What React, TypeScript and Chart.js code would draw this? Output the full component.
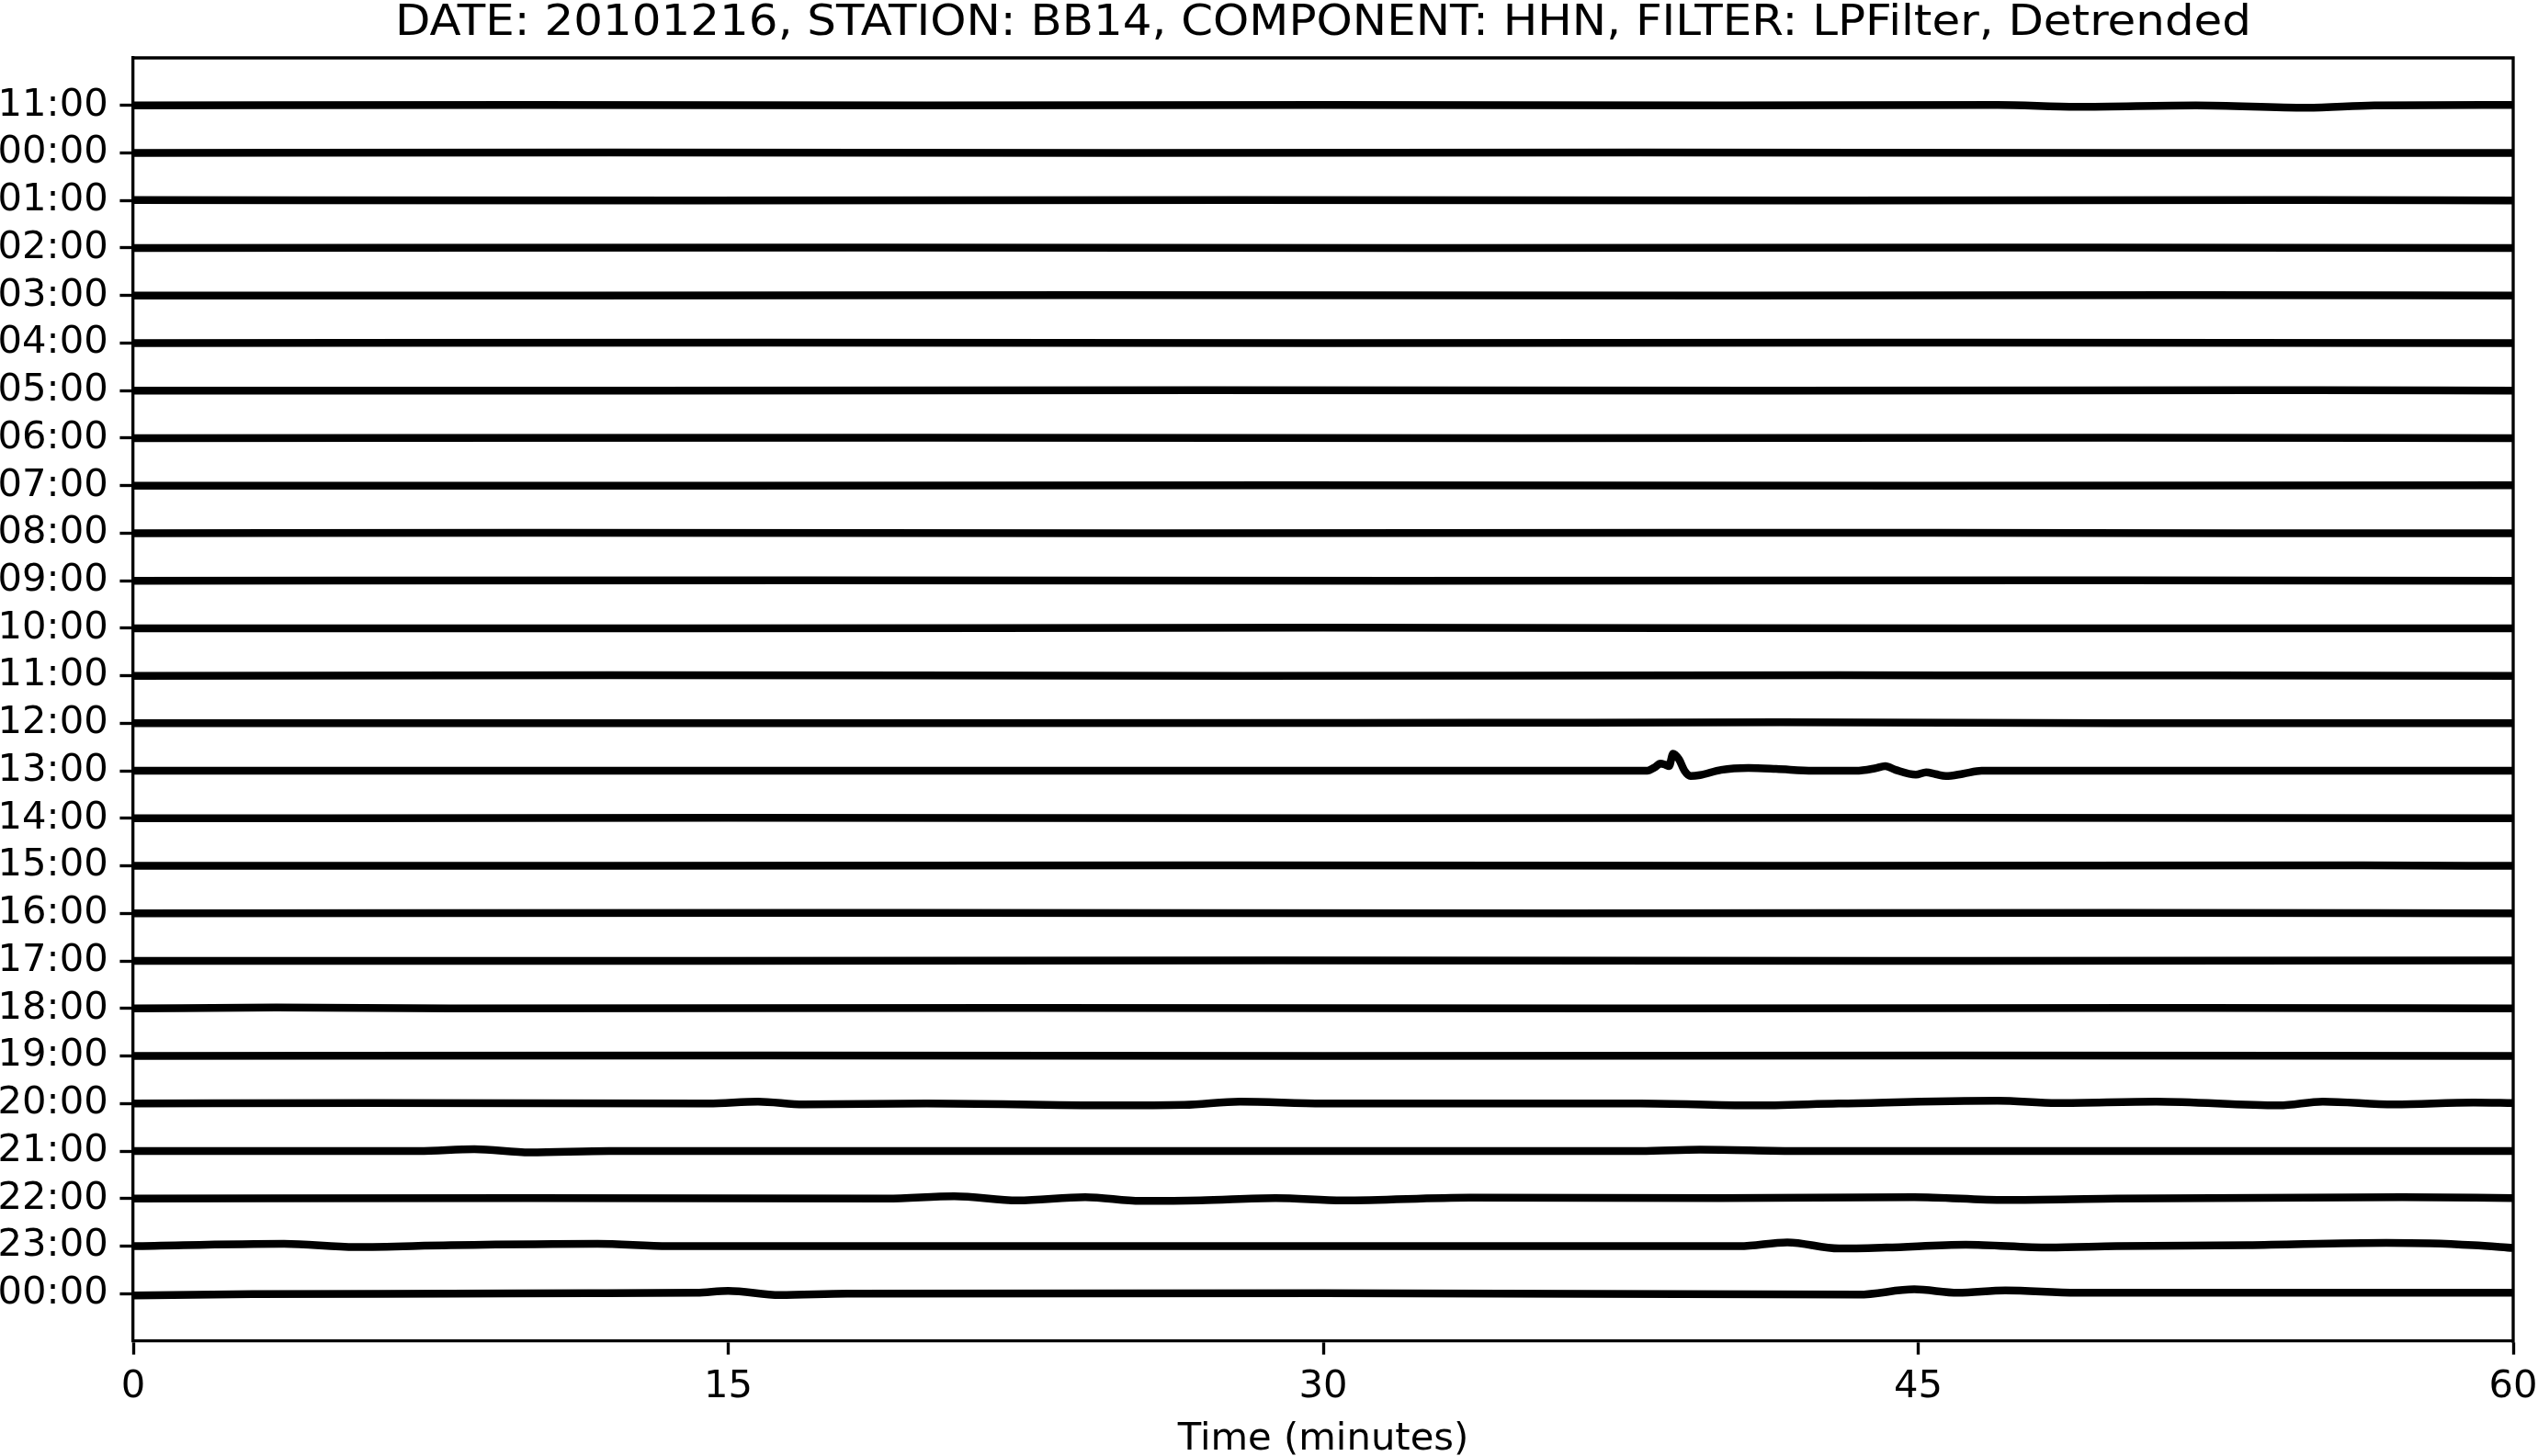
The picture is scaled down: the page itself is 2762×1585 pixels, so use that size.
import React, { useEffect, useRef } from "react";
import { Chart, registerables } from "chart.js";

Chart.register(...registerables);

const titleText =
  "DATE: 20101216, STATION: BB14, COMPONENT: HHN, FILTER: LPFilter, Detrended";
const xAxisLabel = "Time (minutes)";

// One label per helicorder row, top to bottom
const hourLabels = [
  "11:00", "00:00", "01:00", "02:00", "03:00", "04:00", "05:00", "06:00",
  "07:00", "08:00", "09:00", "10:00", "11:00", "12:00", "13:00", "14:00",
  "15:00", "16:00", "17:00", "18:00", "19:00", "20:00", "21:00", "22:00",
  "23:00", "00:00",
];

const xTickValues = [0, 15, 30, 45, 60];

// Each trace: [minute, amplitude] pairs; amplitude in row-spacing units (up = positive)
const trace00: number[][] = [[0, 0], [10, 0.01], [20, 0], [30, 0.01], [40, 0], [47, 0.01], [49, -0.03], [52, 0], [54.8, -0.05], [56.5, 0], [60, 0.01]];
const trace01: number[][] = [[0, 0], [12, 0.01], [25, 0], [38, 0.01], [50, 0], [60, 0]];
const trace02: number[][] = [[0, 0.01], [14, 0], [28, 0.01], [42, 0], [55, 0.01], [60, 0]];
const trace03: number[][] = [[0, 0], [18, 0.01], [33, 0], [47, 0.01], [60, 0]];
const trace04: number[][] = [[0, 0], [11, 0], [24, 0.01], [40, 0], [52, 0.01], [60, 0]];
const trace05: number[][] = [[0, 0], [16, 0.01], [30, 0], [44, 0.01], [60, 0]];
const trace06: number[][] = [[0, 0], [13, 0], [27, 0.01], [41, 0], [55, 0.01], [60, 0]];
const trace07: number[][] = [[0, 0], [20, 0.01], [35, 0], [50, 0.01], [60, 0]];
const trace08: number[][] = [[0, 0], [15, 0], [29, 0.01], [45, 0], [60, 0.01]];
const trace09: number[][] = [[0, 0], [10, 0.01], [26, 0], [39, 0.01], [53, 0], [60, 0]];
const trace10: number[][] = [[0, 0], [17, 0.01], [32, 0], [48, 0.01], [60, 0]];
const trace11: number[][] = [[0, 0], [14, 0], [30, 0.01], [46, 0], [60, 0]];
const trace12: number[][] = [[0, 0], [12, 0.01], [28, 0], [43, 0.01], [60, 0]];
const trace13: number[][] = [[0, 0], [18, 0], [34, 0.01], [41.5, 0.02], [50, 0], [60, 0]];
const trace14: number[][] = [
  [0, 0], [20, 0], [38.17, 0], [38.35, 0.07], [38.5, 0.15], [38.62, 0.13],
  [38.72, 0.1], [38.82, 0.36], [38.97, 0.24], [39.11, 0], [39.26, -0.11],
  [39.5, -0.09], [40.03, 0.02], [40.72, 0.06], [41.42, 0.04], [42.35, 0],
  [43.43, 0], [43.9, 0.05], [44.17, 0.1], [44.43, 0.02], [44.94, -0.08],
  [45.2, -0.03], [45.44, -0.07], [45.7, -0.11], [46.14, -0.06], [46.6, 0],
  [60, 0],
];
const trace15: number[][] = [[0, 0], [15, 0.01], [31, 0], [45, 0.01], [60, 0]];
const trace16: number[][] = [[0, 0], [12, 0], [27, 0.01], [42, 0], [56, 0.01], [60, 0]];
const trace17: number[][] = [[0, 0], [19, 0.01], [36, 0], [50, 0.01], [60, 0]];
const trace18: number[][] = [[0, 0], [14, 0], [29, 0.01], [44, 0], [60, 0.01]];
const trace19: number[][] = [[0, 0], [3.6, 0.02], [8, 0], [22, 0.01], [38, 0], [52, 0.01], [60, 0]];
const trace20: number[][] = [[0, 0], [16, 0.01], [30, 0], [46, 0.01], [60, 0]];
const trace21: number[][] = [
  [0, 0], [6, 0.01], [14.5, 0], [15.75, 0.04], [16.9, -0.02], [20, 0],
  [24.6, -0.04], [26.5, -0.03], [27.9, 0.04], [30, 0], [38, 0], [40.8, -0.04],
  [43, 0], [47, 0.06], [48.5, 0.01], [51, 0.04], [54.1, -0.04], [55.2, 0.04],
  [57, -0.02], [59, 0.02], [60, 0.01],
];
const trace22: number[][] = [[0, 0], [7.2, 0], [8.6, 0.04], [10, -0.03], [12, 0], [30, 0], [38, 0], [39.5, 0.03], [42, 0], [60, 0]];
const trace23: number[][] = [
  [0, 0], [10, 0.01], [19, 0], [20.7, 0.05], [22.3, -0.04], [24, 0.03],
  [25.4, -0.05], [26.9, -0.04], [28.8, 0.01], [30.5, -0.04], [33.7, 0.02],
  [40, 0.01], [44.9, 0.03], [47.2, -0.03], [50, 0], [57.2, 0.03], [60, 0.01],
];
const trace24: number[][] = [
  [0, 0], [3.8, 0.05], [5.6, -0.02], [8, 0.02], [11.7, 0.05], [13.5, 0],
  [40.5, 0], [41.7, 0.08], [43, -0.05], [44.2, -0.03], [46.2, 0.03],
  [48.3, -0.03], [50, 0], [53.3, 0.02], [56.8, 0.07], [57.9, 0.06],
  [59, 0.02], [60, -0.04],
];
const trace25: number[][] = [
  [0, -0.04], [3, -0.01], [8, 0], [11.5, 0.01], [14.2, 0.02], [15, 0.06],
  [16.3, -0.03], [18, 0], [30, 0.01], [43.5, -0.02], [44.9, 0.09], [46, 0.02],
  [47.2, 0.07], [49, 0.02], [60, 0.02],
];

const traces = [
  trace00, trace01, trace02, trace03, trace04, trace05, trace06, trace07,
  trace08, trace09, trace10, trace11, trace12, trace13, trace14, trace15,
  trace16, trace17, trace18, trace19, trace20, trace21, trace22, trace23,
  trace24, trace25,
];

const FONT = "'DejaVu Sans', 'Liberation Sans', sans-serif";
const LW = 3.33;

const framePlugin = {
  id: "frameAndTitle",
  afterDraw(chart: any) {
    const { ctx, chartArea } = chart;
    const { left, right, top, bottom } = chartArea;
    ctx.save();
    ctx.strokeStyle = "#000";
    ctx.lineWidth = LW;
    ctx.lineCap = "square";
    ctx.beginPath();
    ctx.moveTo(left, top);
    ctx.lineTo(right, top);
    ctx.lineTo(right, bottom);
    ctx.stroke();
    ctx.restore();

    ctx.save();
    ctx.fillStyle = "#000";
    ctx.font = `46px ${FONT}`;
    ctx.textAlign = "center";
    ctx.textBaseline = "alphabetic";
    const w = ctx.measureText(titleText).width;
    const sx = w > 0 ? 2020 / w : 1;
    ctx.translate((left + right) / 2, 38);
    ctx.scale(sx, 1);
    ctx.fillText(titleText, 0, 0);
    ctx.restore();
  },
};

export default function App() {
  const ref = useRef<HTMLCanvasElement | null>(null);

  useEffect(() => {
    if (!ref.current) return;
    const n = hourLabels.length;
    const datasets = traces.map((tr, i) => ({
      label: hourLabels[i],
      data: tr.map((p) => ({ x: p[0], y: n - 1 - i + p[1] })),
      borderColor: "#000",
      backgroundColor: "#000",
      borderWidth: 8.5,
      pointRadius: 0,
      fill: false,
      cubicInterpolationMode: "monotone" as const,
      borderJoinStyle: "round" as const,
    }));

    const chart = new Chart(ref.current, {
      type: "line",
      data: { datasets },
      plugins: [framePlugin],
      options: {
        animation: false,
        responsive: false,
        devicePixelRatio: 1,
        layout: { padding: { left: 0, right: 27, top: 63, bottom: 0 } },
        plugins: {
          legend: { display: false },
          title: { display: false },
          tooltip: { enabled: false },
        },
        scales: {
          x: {
            type: "linear",
            min: 0,
            max: 60,
            afterBuildTicks: (s: any) => {
              s.ticks = xTickValues.map((v) => ({ value: v }));
            },
            afterFit: (s: any) => {
              s.height = 125;
              s.paddingLeft = 0;
              s.paddingRight = 0;
            },
            ticks: {
              color: "#000",
              font: { family: FONT, size: 41.7, lineHeight: 1.2 },
              padding: 11,
              maxRotation: 0,
              autoSkip: false,
            },
            grid: {
              drawOnChartArea: false,
              drawTicks: true,
              tickLength: 14.6,
              tickWidth: LW,
              tickColor: "#000",
              color: "#000",
            },
            border: { display: true, color: "#000", width: LW },
            title: {
              display: true,
              text: xAxisLabel,
              color: "#000",
              font: { family: FONT, size: 41.7, lineHeight: 1 },
              padding: { top: 0, bottom: -3 },
            },
          },
          y: {
            type: "linear",
            min: -1,
            max: n,
            afterBuildTicks: (s: any) => {
              s.ticks = hourLabels.map((_, i) => ({ value: n - 1 - i }));
            },
            afterFit: (s: any) => {
              s.width = 145;
              s.paddingTop = 0;
              s.paddingBottom = 0;
            },
            ticks: {
              color: "#000",
              font: { family: FONT, size: 41.7, lineHeight: 1.2 },
              padding: 12.7,
              autoSkip: false,
              callback: (v: any) => hourLabels[n - 1 - Number(v)] ?? "",
            },
            grid: {
              drawOnChartArea: false,
              drawTicks: true,
              tickLength: 14.6,
              tickWidth: LW,
              tickColor: "#000",
              color: "#000",
            },
            border: { display: true, color: "#000", width: LW },
          },
        },
      },
    });
    return () => chart.destroy();
  }, []);

  return (
    <div style={{ position: "absolute", left: 0, top: 0, width: 2762, height: 1585, background: "#fff" }}>
      <canvas ref={ref} width={2762} height={1585} style={{ display: "block", width: 2762, height: 1585 }} />
    </div>
  );
}
